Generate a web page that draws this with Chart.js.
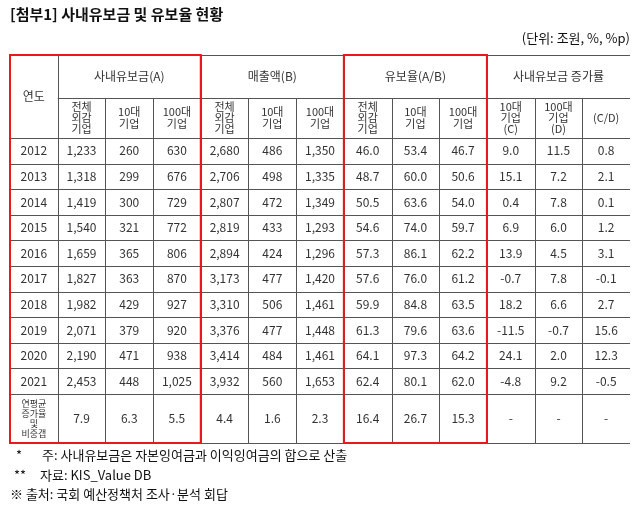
<!DOCTYPE html>
<html><head><meta charset="utf-8">
<script src="https://cdn.jsdelivr.net/npm/chart.js@4.4.0/dist/chart.umd.min.js"></script>
<style>body{margin:0;background:#fff}canvas{display:block}</style>
</head><body>
<canvas id="c" width="640" height="505"></canvas>
<script>
// table values
const years = ['2012','2013','2014','2015','2016','2017','2018','2019','2020','2021'];
const retainedAll = ['1,233','1,318','1,419','1,540','1,659','1,827','1,982','2,071','2,190','2,453'];
const retained10 = ['260','299','300','321','365','363','429','379','471','448'];
const retained100 = ['630','676','729','772','806','870','927','920','938','1,025'];
const salesAll = ['2,680','2,706','2,807','2,819','2,894','3,173','3,310','3,376','3,414','3,932'];
const sales10 = ['486','498','472','433','424','477','506','477','484','560'];
const sales100 = ['1,350','1,335','1,349','1,293','1,296','1,420','1,461','1,448','1,461','1,653'];
const ratioAll = ['46.0','48.7','50.5','54.6','57.3','57.6','59.9','61.3','64.1','62.4'];
const ratio10 = ['53.4','60.0','63.6','74.0','86.1','76.0','84.8','79.6','97.3','80.1'];
const ratio100 = ['46.7','50.6','54.0','59.7','62.2','61.2','63.5','63.6','64.2','62.0'];
const growth10 = ['9.0','15.1','0.4','6.9','13.9','-0.7','18.2','-11.5','24.1','-4.8'];
const growth100 = ['11.5','7.2','7.8','6.0','4.5','7.8','6.6','-0.7','2.0','9.2'];
const growthCD = ['0.8','2.1','0.1','1.2','3.1','-0.1','2.7','15.6','12.3','-0.5'];
const summary = ['7.9','6.3','5.5','4.4','1.6','2.3','16.4','26.7','15.3','-','-','-'];
const groupLabels = ['사내유보금(A)','매출액(B)','유보율(A/B)','사내유보금 증가률'];
const subLabels = [['전체','외감','기업'],['10대','기업'],['100대','기업'],['전체','외감','기업'],['10대','기업'],['100대','기업'],
  ['전체','외감','기업'],['10대','기업'],['100대','기업'],['10대','기업','(C)'],['100대','기업','(D)'],['(C/D)']];

const columns = [retainedAll,retained10,retained100,salesAll,sales10,sales100,ratioAll,ratio10,ratio100,growth10,growth100,growthCD];

// row edges in row units (y scale), header rows are a bit taller/shorter
const H1 = 1.68, H2 = 3.24, LAST = 15.15;

const points = [];
years.forEach((y, r) => {
  points.push({x: 0.5, y: H2 + r + 0.5, t: y});
  columns.forEach((col, c) => points.push({x: c + 1.5, y: H2 + r + 0.5, t: col[r]}));
});
summary.forEach((v, c) => points.push({x: c + 1.5, y: (H2 + 10 + LAST) / 2, t: v}));

const FONT = '"Noto Sans CJK KR", "Noto Sans", sans-serif';

const tablePlugin = {
  id: 'table',
  afterDraw(chart) {
    const ctx = chart.ctx, xs = chart.scales.x, ys = chart.scales.y;
    const X = v => xs.getPixelForValue(v), Y = v => ys.getPixelForValue(v);
    ctx.save();
    // grid
    ctx.strokeStyle = '#555'; ctx.lineWidth = 1;
    const hl = (x0, x1, y) => { ctx.beginPath(); ctx.moveTo(X(x0), Math.round(Y(y)) + 0.5); ctx.lineTo(X(x1), Math.round(Y(y)) + 0.5); ctx.stroke(); };
    const vl = (x, y0, y1) => { ctx.beginPath(); ctx.moveTo(Math.round(X(x)) + 0.5, Y(y0)); ctx.lineTo(Math.round(X(x)) + 0.5, Y(y1)); ctx.stroke(); };
    hl(0, 13, 0); hl(1, 13, H1); hl(0, 13, H2);
    for (let r = 1; r <= 10; r++) hl(0, 13, H2 + r);
    hl(0, 13, LAST);
    vl(1, 0, LAST);
    for (let c = 2; c <= 12; c++) vl(c, (c - 1) % 3 === 0 ? 0 : H1, LAST);
    // red boxes
    ctx.strokeStyle = '#e8191e'; ctx.lineWidth = 2;
    ctx.strokeRect(X(0), Y(0), X(4) - X(0), Y(LAST) - Y(0));
    ctx.strokeRect(X(7), Y(0), X(10) - X(7), Y(LAST) - Y(0));
    // text
    ctx.fillStyle = '#333'; ctx.textAlign = 'center'; ctx.textBaseline = 'middle';
    ctx.font = '12px ' + FONT;
    ctx.fillText('연도', X(0.5), Y(H2 / 2));
    groupLabels.forEach((g, i) => ctx.fillText(g, X(1 + i * 3 + 1.5), Y(H1 / 2)));
    ctx.font = '11px ' + FONT;
    subLabels.forEach((lines, c) => {
      const lh = lines.length === 3 ? 11 : 12;
      const mid = Y((H1 + H2) / 2);
      lines.forEach((l, i) => ctx.fillText(l, X(c + 1.5), mid + (i - (lines.length - 1) / 2) * lh));
    });
    ctx.font = '12px ' + FONT;
    points.forEach(p => ctx.fillText(p.t, X(p.x), Y(p.y)));
    ctx.font = '9px ' + FONT;
    ['연평균','증가율','및','비중갭'].forEach((l, i) => ctx.fillText(l, X(0.5), Y((H2 + 10 + LAST) / 2) + (i - 1.5) * 10));
    // title, unit, notes
    ctx.textAlign = 'left';
    ctx.font = 'bold 15px ' + FONT; ctx.fillStyle = '#111';
    ctx.fillText('[첨부1] 사내유보금 및 유보율 현황', 10, 14);
    ctx.font = '13px ' + FONT; ctx.textAlign = 'right';
    ctx.fillText('(단위: 조원, %, %p)', 630, 38);
    ctx.textAlign = 'left';
    ctx.fillText('*', 16, 455); ctx.fillText('주: 사내유보금은 자본잉여금과 이익잉여금의 합으로 산출', 42, 455);
    ctx.fillText('**', 14, 475); ctx.fillText('자료: KIS_Value DB', 40, 475);
    ctx.fillText('※ 출처: 국회 예산정책처 조사·분석 회답', 10, 494);
    ctx.restore();
  }
};

new Chart(document.getElementById('c'), {
  type: 'scatter',
  data: { datasets: [{ data: points, pointRadius: 0 }] },
  options: {
    responsive: false, animation: false,
    layout: { padding: { left: 10, right: 10, top: 55, bottom: 62 } },
    plugins: { legend: { display: false }, tooltip: { enabled: false } },
    scales: {
      x: { type: 'linear', min: 0, max: 13, display: false },
      y: { type: 'linear', min: 0, max: LAST, reverse: true, display: false }
    }
  },
  plugins: [tablePlugin]
});
</script>
</body></html>
